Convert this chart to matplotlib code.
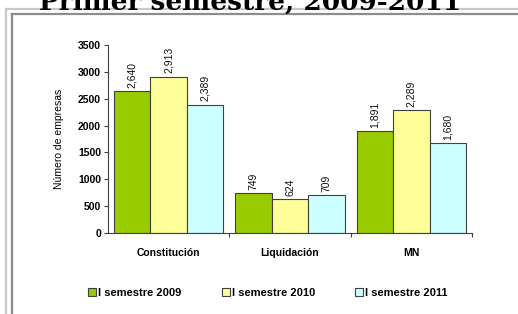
import matplotlib
matplotlib.use("Agg")
import matplotlib.pyplot as plt
import numpy as np
from matplotlib.lines import Line2D
from matplotlib.patches import Patch

categories = ["Constitución", "Liquidación", "MN"]
series_names = ["I semestre 2009", "I semestre 2010", "I semestre 2011"]
s2009 = [2640, 749, 1891]
s2010 = [2913, 624, 2289]
s2011 = [2389, 709, 1680]
colors = ["#99CC00", "#FFFF99", "#CCFFFF"]
yticks = [0, 500, 1000, 1500, 2000, 2500, 3000, 3500]
title = "Primer semestre, 2009-2011"
ylabel = "Número de empresas"

W, H = 518, 314
fig = plt.figure(figsize=(W / 100, H / 100), dpi=100)
fig.patch.set_facecolor("white")

def fx(px):
    return px / W

def fy(py):
    return 1 - py / H

# Frame (double line)
fig.add_artist(Line2D([fx(6), fx(6)], [fy(9), 0], transform=fig.transFigure, color="#c8c8c8", lw=1.6))
fig.add_artist(Line2D([fx(6), 1], [fy(9), fy(9)], transform=fig.transFigure, color="#c8c8c8", lw=1.6))
fig.add_artist(Line2D([fx(11.5), fx(11.5)], [fy(14), 0], transform=fig.transFigure, color="#8c8c8c", lw=1.6))
fig.add_artist(Line2D([fx(11.5), 1], [fy(14), fy(14)], transform=fig.transFigure, color="#8c8c8c", lw=1.6))

# Title (cropped at top, as in the reference)
fig.text(fx(250), fy(10), title, ha="center", va="baseline", fontsize=19,
         fontweight="bold", family="DejaVu Serif", color="black")

ax = fig.add_axes([fx(108), fy(233), fx(472) - fx(108), (233 - 45) / H])
x = np.arange(len(categories))
bw = 0.3
all_series = [s2009, s2010, s2011]
for i, (vals, c) in enumerate(zip(all_series, colors)):
    pos = x + (i - 1) * bw
    ax.bar(pos, vals, width=bw, color=c, edgecolor="#404040", linewidth=0.8)
    for p, v in zip(pos, vals):
        ax.text(p, v + 60, f"{v:,}", rotation=90, ha="center", va="bottom",
                fontsize=7.5, family="Liberation Sans", color="#111111")

ax.set_xlim(-0.5, 2.5)
ax.set_ylim(0, 3500)
ax.set_yticks(yticks)
ax.set_yticklabels([str(t) for t in yticks], fontsize=7.5, fontweight="bold", family="Liberation Sans")
ax.set_xticks([0.5, 1.5, 2.5])
ax.set_xticklabels([])
ax.set_xticks(x, minor=True)
ax.set_xticklabels(categories, minor=True, fontsize=7.5, fontweight="bold", family="Liberation Sans")
ax.tick_params(axis="x", which="minor", length=0, pad=11)
ax.tick_params(axis="x", which="major", length=3, color="#404040")
ax.tick_params(axis="y", length=3, color="#404040", pad=2)
for s in ["top", "right"]:
    ax.spines[s].set_visible(False)
ax.spines["left"].set_color("#404040")
ax.spines["bottom"].set_color("#404040")
ax.spines["left"].set_linewidth(0.8)
ax.spines["bottom"].set_linewidth(0.8)
ax.set_ylabel(ylabel, fontsize=7.5, family="Liberation Sans", labelpad=10)

handles = [Patch(facecolor=c, edgecolor="#404040", linewidth=0.8) for c in colors]
fig.legend(handles, series_names, loc="center", bbox_to_anchor=(fx(268), fy(293)),
           ncol=3, frameon=False, prop={"family": "Liberation Sans", "weight": "bold", "size": 8},
           handlelength=0.7, handleheight=0.7, handletextpad=0.2, columnspacing=3.6)

fig.savefig("out.png", dpi=100, facecolor="white")
